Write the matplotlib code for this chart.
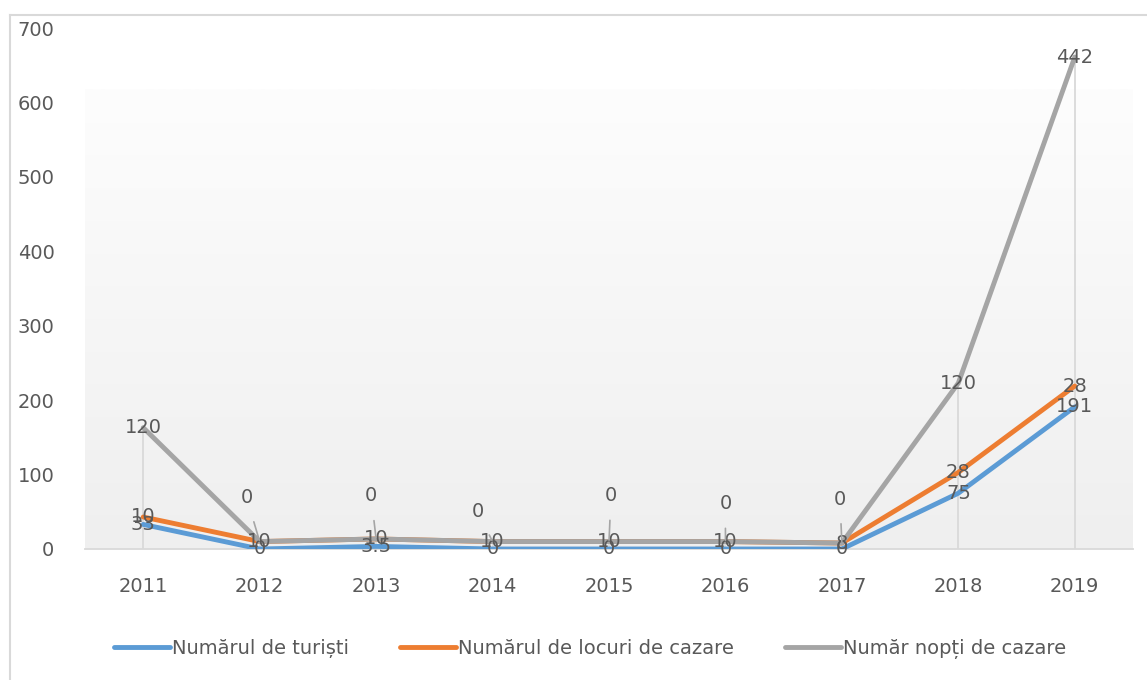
import numpy as np
import matplotlib.pyplot as plt
from matplotlib.colors import LinearSegmentedColormap
from matplotlib.lines import Line2D

years = ['2011', '2012', '2013', '2014', '2015', '2016', '2017', '2018', '2019']
turisti = [33, 0, 3.5, 0, 0, 0, 0, 75, 191]
locuri = [10, 10, 10, 10, 10, 10, 8, 28, 28]
nopti = [120, 0, 0, 0, 0, 0, 0, 120, 442]

labels = ['Numărul de turiști', 'Numărul de locuri de cazare', 'Număr nopți de cazare']
colors = ['#5B9BD5', '#ED7D31', '#A5A5A5']
text_color = '#595959'

# gray "0" labels were dragged above the line (offsets in pixels)
zero_offsets = {1: (-13, 44), 2: (-5, 43), 3: (-15, 30), 4: (2, 46), 5: (0, 38), 6: (-2, 44)}

plt.rcParams['font.family'] = ['DejaVu Sans']

fig = plt.figure(figsize=(11.47, 6.8), dpi=100)
ax = fig.add_axes([85 / 1147, 1 - 549 / 680, (1133 - 85) / 1147, (549 - 28) / 680])

x = np.arange(len(years))
s1 = np.array(turisti, dtype=float)
s2 = s1 + np.array(locuri)
s3 = s2 + np.array(nopti)

# plot area gradient
cmap = LinearSegmentedColormap.from_list('bg', ['#efefef', '#fdfdfd'])
grad = np.linspace(0, 1, 256).reshape(-1, 1)
ax.imshow(grad, cmap=cmap, aspect='auto', origin='lower',
          extent=[-0.5, len(years) - 0.5, 0, 617], zorder=0)

# drop lines
ax.vlines(x, 0, s3, color='#d9d9d9', lw=1.3, zorder=1)

for ys, c in zip([s1, s2, s3], colors):
    ax.plot(x, ys, color=c, lw=3.5, solid_capstyle='round', solid_joinstyle='round', zorder=3)

lab_kw = dict(ha='center', va='center', fontsize=14, color=text_color, zorder=5)
for i in range(len(years)):
    ax.text(x[i], s1[i], f'{turisti[i]:g}', **lab_kw)
    ax.text(x[i], s2[i], f'{locuri[i]:g}', **lab_kw)
    if i in zero_offsets:
        dx, dy = zero_offsets[i]
        ax.annotate(f'{nopti[i]:g}', xy=(x[i], s3[i]), xytext=(dx * 0.72, dy * 0.72),
                    textcoords='offset points', ha='center', va='center',
                    fontsize=14, color=text_color, zorder=5,
                    arrowprops=dict(arrowstyle='-', color='#a5a5a5', lw=1.2,
                                    shrinkA=9, shrinkB=1))
    else:
        ax.text(x[i], s3[i], f'{nopti[i]:g}', **lab_kw)

ax.set_xlim(-0.5, len(years) - 0.5)
ax.set_ylim(0, 700)
ax.set_xticks(x)
ax.set_xticklabels(years)
ax.set_yticks(range(0, 701, 100))
ax.tick_params(length=0, labelsize=14, labelcolor=text_color)
ax.tick_params(axis='x', pad=20)
ax.tick_params(axis='y', pad=22)
for sp in ['top', 'right', 'left']:
    ax.spines[sp].set_visible(False)
ax.spines['bottom'].set_color('#d9d9d9')
ax.spines['bottom'].set_linewidth(1.3)
ax.spines['bottom'].set_zorder(2)

handles = [Line2D([], [], color=c, lw=3.5, solid_capstyle='round') for c in colors]
fig.legend(handles, labels, loc='center', bbox_to_anchor=(590 / 1147, 1 - 649 / 680),
           ncol=3, frameon=False, fontsize=14, labelcolor=text_color,
           handlelength=2.9, handletextpad=0.1, columnspacing=2.6)

# chart border (left and top edges visible)
fig.add_artist(Line2D([9.5 / 1147, 9.5 / 1147], [0, 1 - 15 / 680], color='#d9d9d9', lw=1.5,
                      transform=fig.transFigure))
fig.add_artist(Line2D([9.5 / 1147, 1], [1 - 15 / 680, 1 - 15 / 680], color='#d9d9d9', lw=1.5,
                      transform=fig.transFigure))

fig.savefig('out.png', dpi=100)
